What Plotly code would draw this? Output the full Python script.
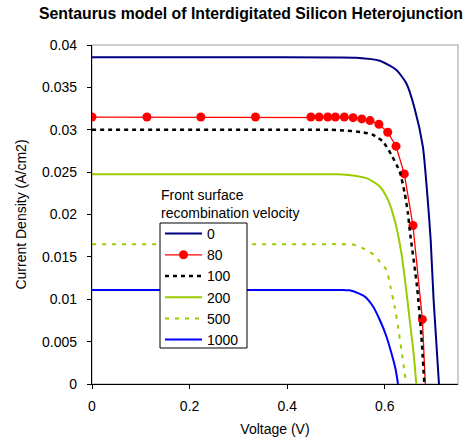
import plotly.graph_objects as go

# ---- data ----
v_0 = [0, 0.30, 0.50, 0.542, 0.5896, 0.6237, 0.644, 0.661, 0.678, 0.688, 0.694, 0.700, 0.711]
j_0 = [0.03855, 0.03855, 0.03853, 0.0385, 0.03815, 0.03705, 0.03548, 0.03254, 0.02801, 0.02173, 0.0170, 0.00994, 0.0]

v_80 = [0, 0.1125, 0.223, 0.335, 0.4485, 0.4654, 0.4832, 0.4986, 0.5171, 0.535, 0.5528,
        0.5697, 0.588, 0.606, 0.623, 0.640, 0.6577, 0.677, 0.685]
j_80 = [0.0315, 0.0315, 0.0315, 0.0315, 0.0315, 0.0315, 0.0315, 0.0315, 0.0315, 0.03143, 0.03128,
        0.03108, 0.03065, 0.0297, 0.02806, 0.02479, 0.0187, 0.00762, -0.0025]

v_100 = [0, 0.45, 0.49, 0.508, 0.5554, 0.5759, 0.5963, 0.6135, 0.6305, 0.6407, 0.6474, 0.651, 0.666, 0.675, 0.681]
j_100 = [0.0300, 0.0300, 0.0300, 0.02995, 0.0297, 0.02939, 0.0286, 0.02703, 0.02506, 0.02252, 0.02016, 0.01819,
         0.0115, 0.00561, 0.0]

v_200 = [0, 0.45, 0.50, 0.52, 0.5624, 0.5896, 0.6065, 0.620, 0.634, 0.643, 0.651, 0.659, 0.6646]
j_200 = [0.02476, 0.02476, 0.02475, 0.0247, 0.02429, 0.0233, 0.02173, 0.01937, 0.01544, 0.01151, 0.00758, 0.00365, 0.0]

v_500 = [0, 0.45, 0.51, 0.535, 0.5589, 0.5759, 0.5896, 0.6033, 0.6115, 0.620, 0.627, 0.634, 0.6407, 0.644]
j_500 = [0.0165, 0.0165, 0.0165, 0.01645, 0.01591, 0.01532, 0.01445, 0.01347, 0.0115, 0.00915, 0.00679, 0.00404, 0.0013, 0.0]

v_1000 = [0, 0.45, 0.51, 0.528, 0.5487, 0.5589, 0.5759, 0.5896, 0.6033, 0.6135, 0.6223, 0.627]
j_1000 = [0.0111, 0.0111, 0.0111, 0.01105, 0.01064, 0.01033, 0.00915, 0.00758, 0.00561, 0.00365, 0.00169, 0.0]

x_ticks = [0, 0.2, 0.4, 0.6]
x_tick_labels = ["0", "0.2", "0.4", "0.6"]
y_ticks = [0, 0.005, 0.01, 0.015, 0.02, 0.025, 0.03, 0.035, 0.04]
y_tick_labels = ["0", "0.005", "0.01", "0.015", "0.02", "0.025", "0.03", "0.035", "0.04"]

series = [
    ("0", v_0, j_0, dict(color="#000080", width=2), "lines"),
    ("80", v_80, j_80, dict(color="#FF0000", width=1.3), "lines+markers"),
    ("100", v_100, j_100, dict(color="#000000", width=2.5, dash="4px,4px"), "lines"),
    ("200", v_200, j_200, dict(color="#99CC00", width=2), "lines"),
    ("500", v_500, j_500, dict(color="#99CC00", width=2, dash="4px,6px"), "lines"),
    ("1000", v_1000, j_1000, dict(color="#0000FF", width=2), "lines"),
]

FONT = "Liberation Sans, Arial, sans-serif"
W, H = 469, 443
L, R, T, B = 92, 11, 45, 59
pw, ph = W - L - R, H - T - B


def px_x(p):
    return (p - L) / pw


def px_y(p):
    return (H - B - p) / ph


fig = go.Figure()
for name, xs, ys, line, mode in series:
    kw = {}
    if "markers" in mode:
        kw["marker"] = dict(color="#FF0000", size=9, symbol="circle")
        shape = "linear"
    else:
        shape = "spline"
    fig.add_trace(go.Scatter(x=xs, y=ys, name=name, mode=mode,
                             line=dict(shape=shape, smoothing=0.6, **line), **kw))

# plot-area border (light grey, Excel style)
fig.add_shape(type="rect", xref="x domain", yref="y domain", x0=0, x1=1, y0=0, y1=1,
              line=dict(color="#BFBFBF", width=1.5), layer="below")
# legend box
fig.add_shape(type="rect", xref="paper", yref="paper",
              x0=px_x(160), x1=px_x(247), y0=px_y(348), y1=px_y(223),
              line=dict(color="#000", width=1), fillcolor="white", layer="above")

fig.add_annotation(text="Front surface<br>recombination velocity", xref="paper", yref="paper",
                   x=px_x(159), y=px_y(185), xanchor="left", yanchor="top",
                   align="left", showarrow=False, font=dict(family=FONT, size=14, color="#000"))

fig.update_layout(
    width=W, height=H,
    margin=dict(l=L, r=R, t=T, b=B, pad=0, autoexpand=False),
    paper_bgcolor="white", plot_bgcolor="white",
    title=dict(text="<b>Sentaurus model of Interdigitated Silicon Heterojunction</b>",
               x=251 / W, xanchor="center", y=1 - 13 / H, yanchor="middle", yref="container",
               automargin=False,
               font=dict(family=FONT, size=15.8, color="#000")),
    font=dict(family=FONT, size=14, color="#000"),
    showlegend=True,
    legend=dict(x=px_x(160), y=px_y(218), xanchor="left", yanchor="top",
                borderwidth=0, bgcolor="rgba(0,0,0,0)", itemwidth=37,
                font=dict(family=FONT, size=14, color="#000"), tracegroupgap=0),
    xaxis=dict(range=[0, 0.75], tickvals=x_ticks, ticktext=x_tick_labels, automargin=False,
               showgrid=False, zeroline=False, showline=True, linecolor="#000", linewidth=1.3,
               ticks="outside", ticklen=4, tickcolor="#000", ticklabelstandoff=5,
               tickfont=dict(family=FONT, size=14),
               title=dict(text="Voltage (V)", font=dict(family=FONT, size=14), standoff=11)),
    yaxis=dict(range=[0, 0.04], tickvals=y_ticks, ticktext=y_tick_labels, automargin=False,
               showgrid=False, zeroline=False, showline=True, linecolor="#000", linewidth=1.3,
               ticks="outside", ticklen=4, tickcolor="#000", ticklabelstandoff=7,
               tickfont=dict(family=FONT, size=14),
               title=dict(text="Current Density (A/cm2)", font=dict(family=FONT, size=14), standoff=12)),
)

fig.write_html("out.html", config={"displayModeBar": False},
               post_script="document.body.style.margin='0';document.body.style.padding='0';")
